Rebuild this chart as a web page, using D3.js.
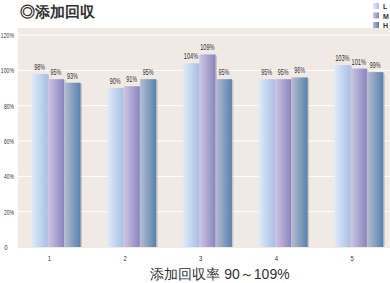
<!DOCTYPE html>
<html>
<head>
<meta charset="utf-8">
<script src="https://cdn.jsdelivr.net/npm/d3@7"></script>
<style>
body { margin: 0; background: #fff; }
text { font-family: "Liberation Sans", Arial, sans-serif; }
</style>
</head>
<body>
<div id="chart"></div>
<script>
// data
var categories = ["1", "2", "3", "4", "5"];
var series = ["L", "M", "H"];
var valuesL = [98, 90, 104, 95, 103];
var valuesM = [95, 91, 109, 95, 101];
var valuesH = [93, 95, 95, 96, 99];
var yTicks = [0, 20, 40, 60, 80, 100, 120];
var title = "◎添加回収";
var footer = "添加回収率 90～109%";

var width = 390, height = 283;

var svg = d3.select("#chart").append("svg")
	.attr("width", width)
	.attr("height", height);

var x = d3.scaleBand().domain(categories).range([11.5, 390]);
var xs = d3.scaleBand().domain(series).range([20, 69]).paddingInner(0.02);
var y = d3.scaleLinear().domain([0, 120]).range([247, 35]);

// squeeze text to look condensed like the original
function narrow(sel, per)
{
	sel.attr("textLength", function() { return this.textContent.length * per; })
		.attr("lengthAdjust", "spacingAndGlyphs");
}

// gradients, one per series
var grads = {
	L: ["#e0ecf8", "#a8c0e6"],
	M: ["#cfc6e4", "#8985c0"],
	H: ["#b6bdd0", "#5782ad"]
};
var defs = svg.append("defs");
series.forEach(function(s)
{
	var g = defs.append("linearGradient").attr("id", "g" + s)
		.attr("x1", "0").attr("x2", "1").attr("y1", "0").attr("y2", "0");
	g.append("stop").attr("offset", "0").attr("stop-color", grads[s][0]);
	g.append("stop").attr("offset", "1").attr("stop-color", grads[s][1]);
});

// plot background
svg.append("rect")
	.attr("x", 18).attr("y", 28)
	.attr("width", 372).attr("height", 220)
	.attr("fill", "#f0e9e4");

// grid
svg.append("g").selectAll("line")
	.data(yTicks.filter(function(d) { return d > 0; }))
	.join("line")
	.attr("x1", 18).attr("x2", 390)
	.attr("y1", function(d) { return y(d); })
	.attr("y2", function(d) { return y(d); })
	.attr("stroke", "#fff")
	.attr("stroke-width", 1);

// y axis labels
var yAxis = d3.axisLeft(y).tickValues(yTicks).tickSize(0)
	.tickFormat(function(d) { return d === 0 ? "0" : d + "%"; });
svg.append("g")
	.attr("transform", "translate(15,0)")
	.call(yAxis)
	.call(function(g) { g.select(".domain").remove(); })
	.selectAll("text")
	.attr("font-size", 8)
	.attr("fill", "#333")
	.attr("text-anchor", function(d) { return d === 0 ? "middle" : "end"; })
	.attr("x", function(d) { return d === 0 ? -9 : -1; })
	.call(narrow, 3.3);

// x axis labels
var xAxis = d3.axisBottom(x).tickSize(0);
svg.append("g")
	.attr("transform", "translate(0,252)")
	.call(xAxis)
	.call(function(g) { g.select(".domain").remove(); })
	.selectAll("text")
	.attr("font-size", 8)
	.attr("fill", "#333")
	.call(narrow, 3.3);

var rows = categories.map(function(c, i)
{
	return [
		{cat: c, s: "L", v: valuesL[i]},
		{cat: c, s: "M", v: valuesM[i]},
		{cat: c, s: "H", v: valuesH[i]}
	];
});

var groups = svg.append("g").selectAll("g")
	.data(rows)
	.join("g")
	.attr("transform", function(d) { return "translate(" + x(d[0].cat) + ",0)"; });

// shadow for a 3d look
groups.selectAll("rect.shadow")
	.data(function(d) { return d; })
	.join("rect")
	.attr("class", "shadow")
	.attr("x", function(d) { return xs(d.s) + 1.5; })
	.attr("y", function(d) { return y(d.v) + 1; })
	.attr("width", xs.bandwidth())
	.attr("height", function(d) { return y(0) - y(d.v) - 1; })
	.attr("fill", "rgba(90,90,110,0.25)");

groups.selectAll("rect.bar")
	.data(function(d) { return d; })
	.join("rect")
	.attr("class", "bar")
	.attr("x", function(d) { return xs(d.s); })
	.attr("y", function(d) { return y(d.v); })
	.attr("width", xs.bandwidth())
	.attr("height", function(d) { return y(0) - y(d.v); })
	.attr("fill", function(d) { return "url(#g" + d.s + ")"; });

groups.selectAll("text.val")
	.data(function(d) { return d; })
	.join("text")
	.attr("class", "val")
	.attr("x", function(d) { return xs(d.s) + xs.bandwidth() / 2; })
	.attr("y", function(d) { return y(d.v) - 4; })
	.attr("text-anchor", "middle")
	.attr("font-size", 9)
	.attr("fill", "#333")
	.text(function(d) { return d.v + "%"; })
	.call(narrow, 3.6);

// legend
var legend = svg.append("g").selectAll("g")
	.data(series)
	.join("g")
	.attr("transform", function(d, i) { return "translate(373," + (3 + i * 9.5) + ")"; });
legend.append("rect")
	.attr("width", 6).attr("height", 6)
	.attr("fill", function(d) { return "url(#g" + d + ")"; });
legend.append("text")
	.attr("x", 10).attr("y", 6)
	.attr("font-size", 7)
	.attr("font-weight", "bold")
	.attr("fill", "#333")
	.text(function(d) { return d; });

// title
svg.append("text")
	.attr("x", 20).attr("y", 17)
	.attr("font-family", "'Noto Sans CJK JP', sans-serif")
	.attr("font-weight", "bold")
	.attr("font-size", 15)
	.attr("fill", "#333")
	.text(title);

// footer
svg.append("text")
	.attr("x", 220).attr("y", 279)
	.attr("text-anchor", "middle")
	.attr("font-family", "'Noto Sans CJK JP', sans-serif")
	.attr("font-size", 14)
	.attr("fill", "#333")
	.text(footer);
</script>
</body>
</html>
